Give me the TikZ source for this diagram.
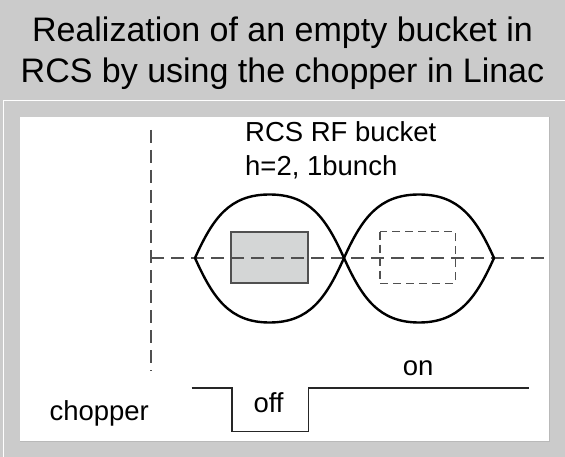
\documentclass[tikz,border=0pt]{standalone}
\usepackage{fontspec}
\setmainfont{Liberation Sans}
\definecolor{panelgray}{RGB}{203,203,203}
\definecolor{boxfill}{RGB}{212,214,214}
\definecolor{dashgray}{RGB}{80,80,80}
\definecolor{edgegray}{RGB}{185,185,185}
\begin{document}
\begin{tikzpicture}[x=1pt,y=-1pt,
  titletext/.style={font=\fontsize{34}{40}\selectfont, inner sep=0pt, anchor=base},
  labeltext/.style={font=\fontsize{27.5}{34}\selectfont, inner sep=0pt, anchor=base west},
  axisline/.style={draw=dashgray, line width=1.8pt, dash pattern=on 13pt off 7pt},
  sepline/.style={draw=black, line width=2.4pt, line join=round},
  bunchbox/.style={fill=boxfill, draw=dashgray, line width=1.8pt},
  emptybox/.style={draw=dashgray, line width=1.6pt, dash pattern=on 8pt off 5pt},
  wave/.style={draw=black!85, line width=1.3pt}]
\useasboundingbox (0,0) rectangle (565,457);
% panels
\fill[panelgray] (0,0) rectangle (565,457);
\draw[white, line width=1.2pt] (3,100.5) -- (565,100.5);
\draw[white, line width=1.2pt] (3.6,100.5) -- (3.6,457);
\fill[white] (20,117) rectangle (549.5,441.7);
\draw[edgegray, line width=0.8pt] (549.5,117) -- (549.5,441.7) -- (20,441.7);
% title
\node[titletext] (title1) at (282.5,41.5) {Realization of an empty bucket in};
\node[titletext] (title2) at (282.5,83) {RCS by using the chopper in Linac};
% labels
\node[labeltext] (rcs) at (245,141.5) {RCS RF bucket};
\node[labeltext] (harm) at (245,176) {h=2, 1bunch};
% coordinates
\coordinate (vtop) at (151,130);
\coordinate (vbot) at (151,371);
\coordinate (hl) at (151,258);
\coordinate (hr) at (550,258);
\coordinate (cA) at (195,258);
\coordinate (cB) at (344,258);
\coordinate (cC) at (494,258);
% bunch boxes
\draw[bunchbox] (231,231.7) rectangle (307.7,283.3);
\draw[emptybox] (380,231.7) rectangle (455.3,283.3);
% axes
\draw[axisline] (vtop) -- (vbot);
\draw[axisline] (hl) -- (hr);
% separatrix
\draw[sepline] (cA) .. controls (213,218) and (229.5,194.5) .. (269.5,194.5)
  .. controls (309.5,194.5) and (326,218) .. (cB)
  .. controls (326,298) and (309.5,322.5) .. (269.5,322.5)
  .. controls (229.5,322.5) and (213,298) .. (cA) -- cycle;
\draw[sepline] (cB) .. controls (362,218) and (379,194.5) .. (419,194.5)
  .. controls (459,194.5) and (476,218) .. (cC)
  .. controls (476,298) and (459,322.5) .. (419,322.5)
  .. controls (379,322.5) and (362,298) .. (cB) -- cycle;
% chopper waveform
\coordinate (w0) at (191.7,388);
\coordinate (w1) at (232,388);
\coordinate (w2) at (232,431.7);
\coordinate (w3) at (308.3,431.7);
\coordinate (w4) at (308.3,388);
\coordinate (w5) at (529.3,388);
\draw[wave] (w0) -- (w1) -- (w2) -- (w3) -- (w4) -- (w5);
\node[labeltext] (chop) at (49.3,420) {chopper};
\node[labeltext] (off) at (253.3,412.3) {off};
\node[labeltext] (on) at (402.7,375) {on};
\end{tikzpicture}
\end{document}
